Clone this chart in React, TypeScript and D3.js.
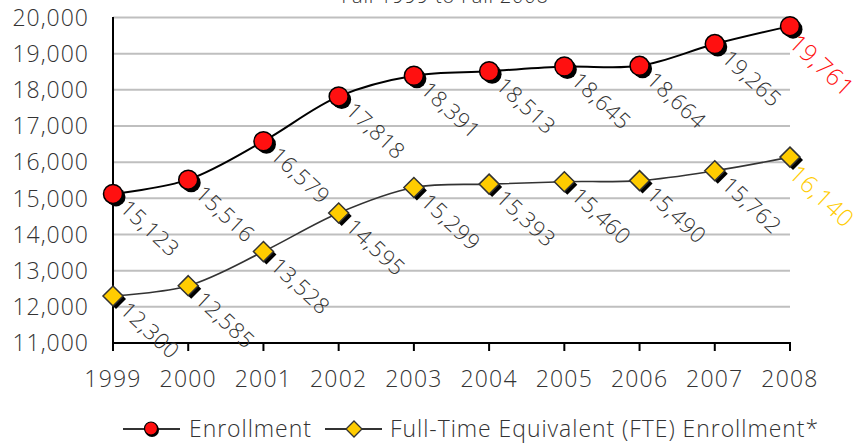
import React from "react";
import * as d3 from "d3";

const years = ["1999", "2000", "2001", "2002", "2003", "2004", "2005", "2006", "2007", "2008"];
const enrollment = [15123, 15516, 16579, 17818, 18391, 18513, 18645, 18664, 19265, 19761];
const fte = [12300, 12585, 13528, 14595, 15299, 15393, 15460, 15490, 15762, 16140];
const yTicks = [11000, 12000, 13000, 14000, 15000, 16000, 17000, 18000, 19000, 20000];
const seriesNames = ["Enrollment", "Full-Time Equivalent (FTE) Enrollment*"];
const subtitle = "Fall 1999 to Fall 2008";

const W = 857;
const H = 443;
const FONT = "'Open Sans', 'DejaVu Sans', sans-serif";
const TXT = "#333333";
const RED = "#FF1010";
const GOLD = "#FFCC00";

export default function App() {
  const x = d3.scalePoint<string>().domain(years).range([113, 790]);
  const y = d3.scaleLinear().domain([11000, 20000]).range([343, 17.5]);
  const fmt = d3.format(",");
  const line = d3
    .line<number>()
    .x((_, i) => x(years[i]) as number)
    .y((d) => y(d))
    .curve(d3.curveCatmullRom.alpha(0.5));

  const diamond = (cx: number, cy: number, r: number) =>
    `M${cx},${cy - r}L${cx + r},${cy}L${cx},${cy + r}L${cx - r},${cy}Z`;

  const ANG = 43;
  const last = years.length - 1;

  const labels = (vals: number[], color: string) =>
    vals.map((v, i) => {
      const cx = x(years[i]) as number;
      const cy = y(v);
      const isLast = i === last;
      return (
        <text
          key={i}
          transform={`translate(${cx},${cy}) rotate(${ANG})`}
          x={isLast ? 11 : 15}
          y={isLast ? 7 : 0}
          dy="0.35em"
          fontSize={isLast ? 24 : 22}
          letterSpacing={isLast ? 0.7 : 0.6}
          fill={isLast ? color : TXT}
          fontFamily={FONT}
          fontWeight={300}
        >
          {fmt(v)}
        </text>
      );
    });

  return (
    <svg
      width={W}
      height={H}
      style={{ position: "absolute", left: 0, top: 0, background: "#fff" }}
    >
      <rect width={W} height={H} fill="#fff" />
      <text x={445} y={3} textAnchor="middle" fontFamily={FONT} fontSize={20} fill={TXT} fontWeight={300} letterSpacing={0.8}>
        {subtitle}
      </text>
      {/* gridlines */}
      {yTicks.map((t) => (
        <line key={t} x1={113} x2={790} y1={y(t)} y2={y(t)} stroke="#BFBFBF" strokeWidth={2} />
      ))}
      {/* y tick labels */}
      {yTicks.map((t) => (
        <text
          key={"l" + t}
          x={89}
          y={y(t)}
          dy="0.36em"
          textAnchor="end"
          fontFamily={FONT}
          fontSize={23}
          letterSpacing={1}
          fill={TXT}
          fontWeight={300}
        >
          {fmt(t)}
        </text>
      ))}
      {/* axes */}
      <line x1={113} x2={113} y1={17} y2={344} stroke="#000" strokeWidth={2} />
      <line x1={112} x2={791} y1={343} y2={343} stroke="#000" strokeWidth={2} />
      {years.map((yr) => (
        <g key={yr}>
          <line x1={x(yr)} x2={x(yr)} y1={343} y2={351} stroke="#000" strokeWidth={2} />
          <text
            x={x(yr)}
            y={387}
            textAnchor="middle"
            fontFamily={FONT}
            fontSize={23}
            letterSpacing={1.2}
            fill={TXT}
            fontWeight={300}
          >
            {yr}
          </text>
        </g>
      ))}
      {/* lines */}
      <path d={line(enrollment) || ""} fill="none" stroke="#000" strokeWidth={2} />
      <path d={line(fte) || ""} fill="none" stroke="#333" strokeWidth={1.6} />
      {/* markers: FTE */}
      {fte.map((v, i) => {
        const cx = x(years[i]) as number;
        const cy = y(v);
        return (
          <g key={"f" + i}>
            <path d={diamond(cx + 3, cy + 3, 10)} fill="#000" />
            <path d={diamond(cx, cy, 10)} fill={GOLD} stroke="#333" strokeWidth={1.5} />
          </g>
        );
      })}
      {/* markers: Enrollment */}
      {enrollment.map((v, i) => {
        const cx = x(years[i]) as number;
        const cy = y(v);
        return (
          <g key={"e" + i}>
            <circle cx={cx + 3} cy={cy + 3} r={9.5} fill="#000" />
            <circle cx={cx} cy={cy} r={9.5} fill={RED} stroke="#000" strokeWidth={1.5} />
          </g>
        );
      })}
      {labels(enrollment, RED)}
      {labels(fte, GOLD)}
      {/* legend */}
      <g>
        <line x1={123} x2={180} y1={429} y2={429} stroke="#333" strokeWidth={2} />
        <circle cx={152} cy={430} r={7} fill="#000" />
        <circle cx={151} cy={428.5} r={6.5} fill={RED} stroke="#000" strokeWidth={1.2} />
        <text x={189} y={429} dy="0.36em" fontFamily={FONT} fontSize={23} letterSpacing={0.95} fill={TXT} fontWeight={300}>
          {seriesNames[0]}
        </text>
        <line x1={325} x2={382} y1={429} y2={429} stroke="#333" strokeWidth={2} />
        <path d={diamond(354, 429, 8)} fill={GOLD} stroke="#333" strokeWidth={1.3} />
        <text x={390} y={429} dy="0.36em" fontFamily={FONT} fontSize={23} letterSpacing={0.95} fill={TXT} fontWeight={300}>
          {seriesNames[1]}
        </text>
      </g>
    </svg>
  );
}
